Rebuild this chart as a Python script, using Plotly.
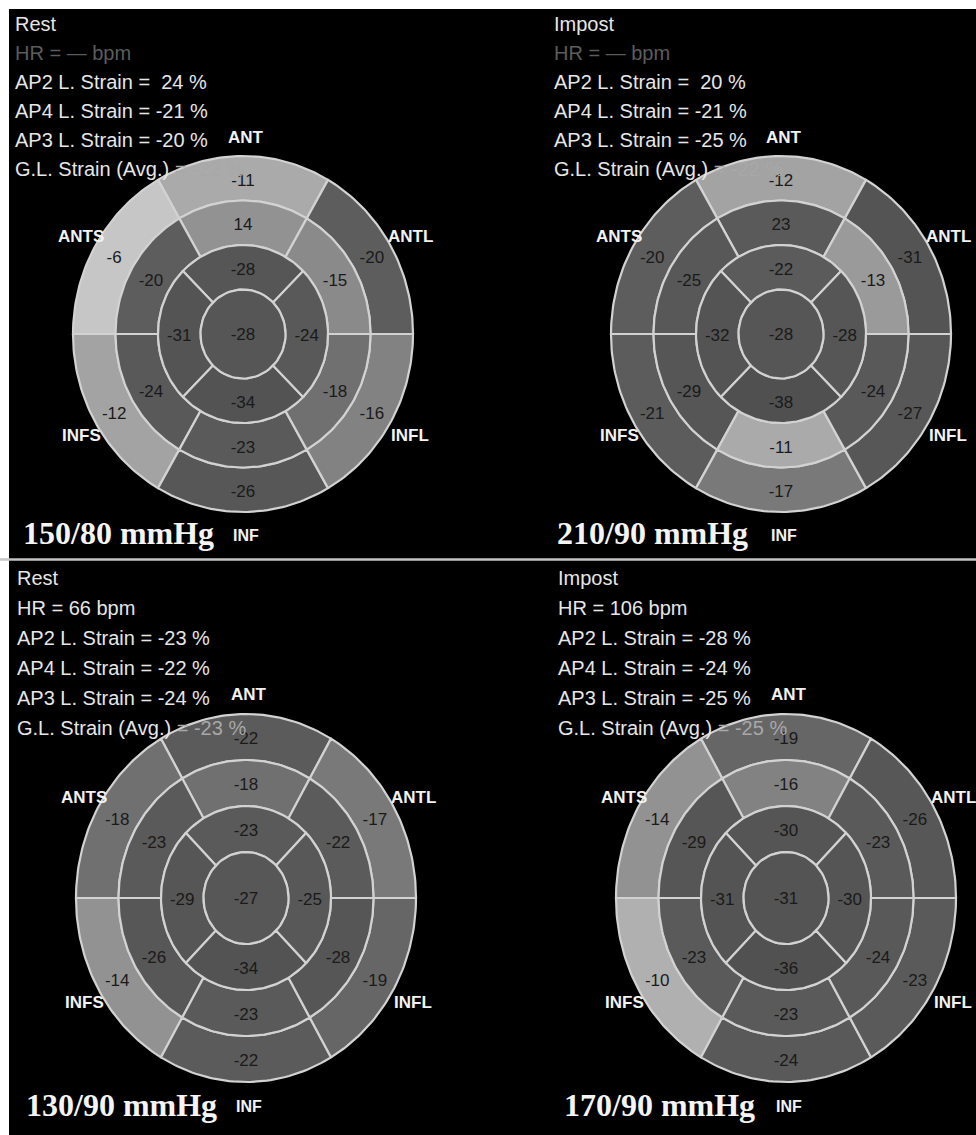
import numpy as np
import plotly.graph_objects as go
from plotly.colors import sample_colorscale

# ---- data -------------------------------------------------------------
# Ring order (counter-clockwise starting at the top):
#   basal / mid rings : ANT, ANTS, INFS, INF, INFL, ANTL
#   apical ring       : ANT, SEPT, INF, LAT
panel_titles = ["Rest", "Impost", "Rest", "Impost"]
heart_rate = [None, None, 66, 106]
ap2_strain = [24, 20, -23, -28]
ap4_strain = [-21, -21, -22, -24]
ap3_strain = [-20, -25, -24, -25]
gls_avg = [-22, -22, -23, -25]
blood_pressure = ["150/80", "210/90", "130/90", "170/90"]

basal = [
    [-11, -6, -12, -26, -16, -20],
    [-12, -20, -21, -17, -27, -31],
    [-22, -18, -14, -22, -19, -17],
    [-19, -14, -10, -24, -23, -26],
]
mid = [
    [14, -20, -24, -23, -18, -15],
    [23, -25, -29, -11, -24, -13],
    [-18, -23, -26, -23, -28, -22],
    [-16, -29, -23, -23, -24, -23],
]
apical = [
    [-28, -31, -34, -24],
    [-22, -32, -38, -28],
    [-23, -29, -34, -25],
    [-30, -31, -36, -30],
]
apex = [-28, -28, -27, -31]

# ---- layout of the four bull's-eye panels (pixel canvas) --------------
W, H = 976, 1135
centers = [(243, 334), (781, 334), (246, 898), (786, 898)]
unit_x = 42.5
unit_y = [44.5, 44.5, 46.0, 46.0]
header_x = [13, 552, 15, 556]
header_y0 = [24, 24, 578, 578]
header_step = [29, 29, 30, 30]
bp_x = [21, 555, 24, 562]
bp_y = [533, 533, 1105, 1105]

# grey scale on strain magnitude: weak strain light, strong strain dark
gray_scale = [
    [0.00, "#e2e2e2"], [0.15, "#c6c6c6"], [0.25, "#b0b0b0"],
    [0.30, "#a3a3a3"], [0.35, "#929292"], [0.40, "#828282"],
    [0.45, "#707070"], [0.50, "#5d5d5d"], [0.625, "#585858"],
    [1.00, "#4f4f4f"],
]
CMAX = 40.0
EDGE = "#d2d2d2"
SANS = "Liberation Sans, Arial"


def seg_color(v):
    return sample_colorscale(gray_scale, [min(abs(v), CMAX) / CMAX])[0]


def ring_segment(cx, cy, uy, r0, r1, a0, a1, n=48):
    t = np.radians(np.linspace(a0, a1, n))
    xo = cx + r1 * unit_x * np.cos(t)
    yo = cy - r1 * uy * np.sin(t)
    if r0 == 0:
        return list(xo) + [xo[0]], list(yo) + [yo[0]]
    xi = cx + r0 * unit_x * np.cos(t[::-1])
    yi = cy - r0 * uy * np.sin(t[::-1])
    xs = list(xo) + list(xi) + [xo[0]]
    ys = list(yo) + list(yi) + [yo[0]]
    return xs, ys


fig = go.Figure()

# black screen area and the divider between the two studies
fig.add_shape(type="rect", x0=9, x1=W, y0=9, y1=H, fillcolor="#000000",
              line=dict(width=0), layer="below")
fig.add_shape(type="line", x0=0, x1=W, y0=559.5, y1=559.5,
              line=dict(color="#c4c4c4", width=2.5))

for p in range(4):
    cx, cy = centers[p]
    uy = unit_y[p]
    rings = [
        (basal[p], 3, 4, 60, 90),
        (mid[p], 2, 3, 60, 90),
        (apical[p], 1, 2, 90, 90),
    ]
    lab_x, lab_y, lab_t = [], [], []
    for vals, r0, r1, span, start in rings:
        for k, v in enumerate(vals):
            mid_ang = start + span * k
            xs, ys = ring_segment(cx, cy, uy, r0, r1,
                                  mid_ang - span / 2, mid_ang + span / 2)
            fig.add_trace(go.Scatter(
                x=xs, y=ys, mode="lines", fill="toself",
                fillcolor=seg_color(v), line=dict(color=EDGE, width=2.2),
                hoverinfo="skip", showlegend=False))
            rm = (r0 + r1) / 2
            a = np.radians(mid_ang)
            lab_x.append(cx + rm * unit_x * np.cos(a))
            lab_y.append(cy - rm * uy * np.sin(a) + 3)
            lab_t.append(str(v))
    xs, ys = ring_segment(cx, cy, uy, 0, 1, 0, 360, n=90)
    fig.add_trace(go.Scatter(
        x=xs, y=ys, mode="lines", fill="toself",
        fillcolor=seg_color(apex[p]), line=dict(color=EDGE, width=2.2),
        hoverinfo="skip", showlegend=False))
    lab_x.append(cx)
    lab_y.append(cy + 2)
    lab_t.append(str(apex[p]))

    fig.add_trace(go.Scatter(
        x=lab_x, y=lab_y, mode="text", text=lab_t,
        textposition="middle center",
        textfont=dict(family=SANS, size=17, color="#1a1a1a"),
        hoverinfo="skip", showlegend=False))

    # orientation labels round the bull's eye
    orient = [("ANT", 0.07, -4.42), ("ANTS", -3.82, -2.18),
              ("ANTL", 3.93, -2.18), ("INFS", -3.81, 2.27),
              ("INFL", 3.93, 2.27)]
    for name, ox, oy in orient:
        fig.add_annotation(
            x=cx + ox * unit_x, y=cy + oy * uy, text=name, showarrow=False,
            xanchor="center", yanchor="middle",
            font=dict(family=SANS, size=17, color="#f2f2f2", weight="bold"))

    # study header
    hr = heart_rate[p]
    if hr is None:
        hr_line = "<span style='color:#5c5c5c'>HR = — bpm</span>"
    else:
        hr_line = f"HR = {hr} bpm"

    def fmt(v):
        return ("\u00a0\u00a0" if v >= 0 else "\u00a0") + f"{v} %"

    lines = [
        panel_titles[p],
        hr_line,
        f"AP2 L. Strain ={fmt(ap2_strain[p])}",
        f"AP4 L. Strain ={fmt(ap4_strain[p])}",
        f"AP3 L. Strain ={fmt(ap3_strain[p])}",
        "G.L. Strain (Avg.) <span style='color:#a8a8a8'>= "
        f"{gls_avg[p]} %</span>",
    ]
    for i, txt in enumerate(lines):
        fig.add_annotation(
            x=header_x[p], y=header_y0[p] + i * header_step[p], text=txt,
            showarrow=False, xanchor="left", yanchor="middle",
            font=dict(family=SANS, size=20, color="#e6e6e6"))

    # blood pressure and the inferior label
    fig.add_annotation(
        x=bp_x[p], y=bp_y[p], text=f"{blood_pressure[p]} mmHg",
        showarrow=False, xanchor="left", yanchor="middle",
        font=dict(family="Liberation Serif, Times New Roman", size=32,
                  color="#f4f4f4", weight="bold"))
    fig.add_annotation(
        x=cx + 0.07 * unit_x, y=cy + 4.53 * uy, text="INF", showarrow=False,
        xanchor="center", yanchor="middle",
        font=dict(family=SANS, size=16, color="#f2f2f2", weight="bold"))

fig.update_xaxes(range=[0, W], visible=False, fixedrange=True)
fig.update_yaxes(range=[H, 0], visible=False, fixedrange=True)
fig.update_layout(
    width=W, height=H, margin=dict(l=0, r=0, t=0, b=0),
    paper_bgcolor="#ffffff", plot_bgcolor="#ffffff", showlegend=False)

fig.write_html("out.html")
